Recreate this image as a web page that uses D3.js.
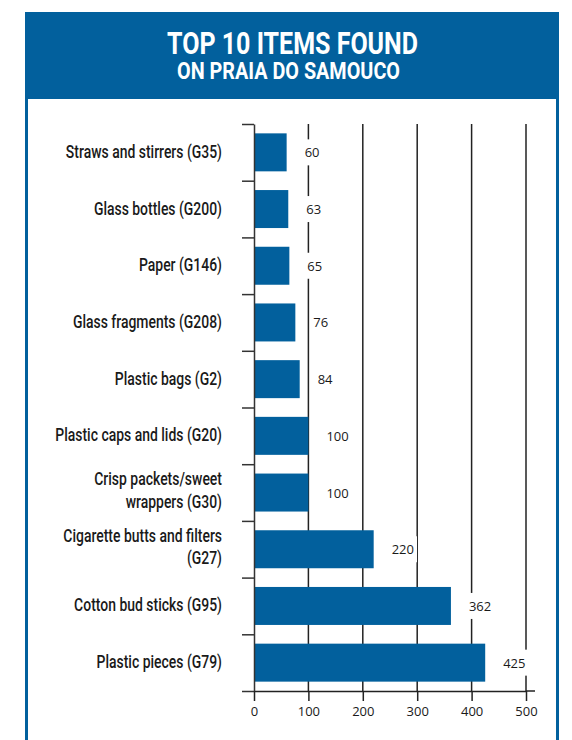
<!DOCTYPE html>
<html lang="en">
    <head>
        <meta charset="utf-8">
        <title>Top 10 Items Found on Praia do Samouco</title>
        <script src="https://d3js.org/d3.v7.min.js"></script>
        <style type="text/css">
            body {
                margin: 0;
                background: #fff;
            }
            .cat-label {
                font-family: Roboto, "DejaVu Sans", sans-serif;
                font-size: 18.5px;
                font-weight: 500;
                fill: #1a1a1a;
            }
            .value-label {
                font-family: "Open Sans", sans-serif;
                font-size: 13px;
                fill: #1a1a1a;
            }
            .axis-x text {
                font-family: "Open Sans", sans-serif;
                font-size: 13px;
                fill: #1a1a1a;
            }
            .title {
                font-family: Roboto, "DejaVu Sans", sans-serif;
                font-weight: bold;
                fill: #fff;
            }
        </style>
    </head>
    <body>
        <script type="text/javascript">
        //Data
        const items = [
            "Straws and stirrers (G35)",
            "Glass bottles (G200)",
            "Paper (G146)",
            "Glass fragments (G208)",
            "Plastic bags (G2)",
            "Plastic caps and lids (G20)",
            "Crisp packets/sweet|wrappers (G30)",
            "Cigarette butts and filters|(G27)",
            "Cotton bud sticks (G95)",
            "Plastic pieces (G79)"
        ];
        const counts = [60, 63, 65, 76, 84, 100, 100, 220, 362, 425];
        const xTicks = [0, 100, 200, 300, 400, 500];

        const data = items.map((d, i) => ({ item: d, count: counts[i] }));

        //Constants
        const w = 572;
        const h = 740;
        const blue = "#02609d";
        const plotLeft = 254;
        const plotRight = 526;
        const plotTop = 124;
        const plotBottom = 691;
        const labelRight = 222;

        //Scales
        const xScale = d3.scaleLinear()
                         .domain([0, 500])
                         .range([plotLeft, plotRight]);

        const yScale = d3.scaleBand()
                         .domain(items)
                         .range([plotTop, plotBottom])
                         .paddingInner(0.33)
                         .paddingOuter(0.165);

        // boundaries between categories, for the left ticks
        const yEdge = d3.scaleLinear()
                        .domain([0, items.length])
                        .range([plotTop, plotBottom]);

        //SVG
        const svg = d3.select("body")
                      .append("svg")
                      .attr("width", w)
                      .attr("height", h);

        //Frame + header
        svg.append("rect")
           .attr("x", 25)
           .attr("y", 12)
           .attr("width", 534)
           .attr("height", 87)
           .attr("fill", blue);

        svg.append("line")
           .attr("x1", 26.5).attr("x2", 26.5)
           .attr("y1", 12).attr("y2", h)
           .attr("stroke", blue)
           .attr("stroke-width", 3);

        svg.append("line")
           .attr("x1", 557.5).attr("x2", 557.5)
           .attr("y1", 12).attr("y2", h)
           .attr("stroke", blue)
           .attr("stroke-width", 3);

        //Title - one text, two lines squeezed to width
        const title = svg.append("text")
                         .attr("class", "title")
                         .attr("text-anchor", "middle");

        title.append("tspan")
             .attr("x", 292.5)
             .attr("y", 53.5)
             .attr("font-size", "30.5px")
             .attr("textLength", 251)
             .attr("lengthAdjust", "spacingAndGlyphs")
             .text("TOP 10 ITEMS FOUND");

        title.append("tspan")
             .attr("x", 288.5)
             .attr("y", 78.5)
             .attr("font-size", "24.5px")
             .attr("textLength", 223)
             .attr("lengthAdjust", "spacingAndGlyphs")
             .text("ON PRAIA DO SAMOUCO");

        //Grid lines
        svg.selectAll(".grid")
           .data(xTicks.slice(1))
           .enter()
           .append("line")
           .attr("class", "grid")
           .attr("x1", d => xScale(d))
           .attr("x2", d => xScale(d))
           .attr("y1", plotTop)
           .attr("y2", plotBottom)
           .attr("stroke", "#222")
           .attr("stroke-width", 1.5);

        //Bars
        svg.selectAll(".bar")
           .data(data)
           .enter()
           .append("rect")
           .attr("class", "bar")
           .attr("x", xScale(0))
           .attr("y", d => yScale(d.item))
           .attr("width", d => xScale(d.count) - xScale(0))
           .attr("height", yScale.bandwidth())
           .attr("fill", blue);

        //Value labels (white box breaks the grid line)
        const vals = svg.selectAll(".val")
           .data(data)
           .enter()
           .append("g")
           .attr("class", "val");

        vals.append("rect")
            .attr("fill", "#fff");

        vals.append("text")
            .attr("class", "value-label")
            .attr("x", d => xScale(d.count) + 18)
            .attr("y", d => yScale(d.item) + yScale.bandwidth() / 2 + 5)
            .text(d => d.count);

        vals.each(function() {
            const g = d3.select(this);
            const b = g.select("text").node().getBBox();
            g.select("rect")
             .attr("x", b.x - 3)
             .attr("y", b.y - 4)
             .attr("width", b.width + 6)
             .attr("height", b.height + 8);
        });

        //Left axis
        const leftAxis = d3.axisLeft(yEdge)
                           .tickValues(d3.range(0, items.length + 1))
                           .tickSize(12)
                           .tickSizeOuter(0)
                           .tickFormat("");

        svg.append("g")
           .attr("class", "axis-y")
           .attr("transform", "translate(" + plotLeft + ",0)")
           .call(leftAxis)
           .call(g => g.selectAll("path, line").attr("stroke", "#333").attr("stroke-width", 1.5));

        //Bottom axis
        const bottomAxis = d3.axisBottom(xScale)
                             .tickValues(xTicks)
                             .tickSize(10)
                             .tickSizeOuter(0)
                             .tickPadding(6);

        svg.append("g")
           .attr("class", "axis-x")
           .attr("transform", "translate(0," + plotBottom + ")")
           .call(bottomAxis)
           .call(g => g.selectAll("path, line").attr("stroke", "#222").attr("stroke-width", 1.5));

        svg.append("line")
           .attr("x1", xScale(500))
           .attr("x2", xScale(500) + 9)
           .attr("y1", plotBottom)
           .attr("y2", plotBottom)
           .attr("stroke", "#222")
           .attr("stroke-width", 1.5);

        //Category labels
        // measure one label to find the squeeze factor (target width 148px)
        const probe = svg.append("text")
                         .attr("class", "cat-label")
                         .text("Cotton bud sticks (G95)");
        const catSx = 148 / probe.node().getComputedTextLength();
        probe.remove();

        const cats = svg.selectAll(".cat")
           .data(data)
           .enter()
           .append("g")
           .attr("class", "cat")
           .attr("transform", d => "translate(" + labelRight + "," +
                 (yScale(d.item) + yScale.bandwidth() / 2) + ") scale(" + catSx + ",1)");

        cats.each(function(d) {
            const lines = d.item.split("|");
            const t = d3.select(this).append("text")
                        .attr("class", "cat-label")
                        .attr("text-anchor", "end");
            lines.forEach((s, i) => {
                t.append("tspan")
                 .attr("x", 0)
                 .attr("y", lines.length === 1 ? 5.5 : (i === 0 ? -7.5 : 15))
                 .text(s);
            });
        });
        </script>
    </body>
</html>
